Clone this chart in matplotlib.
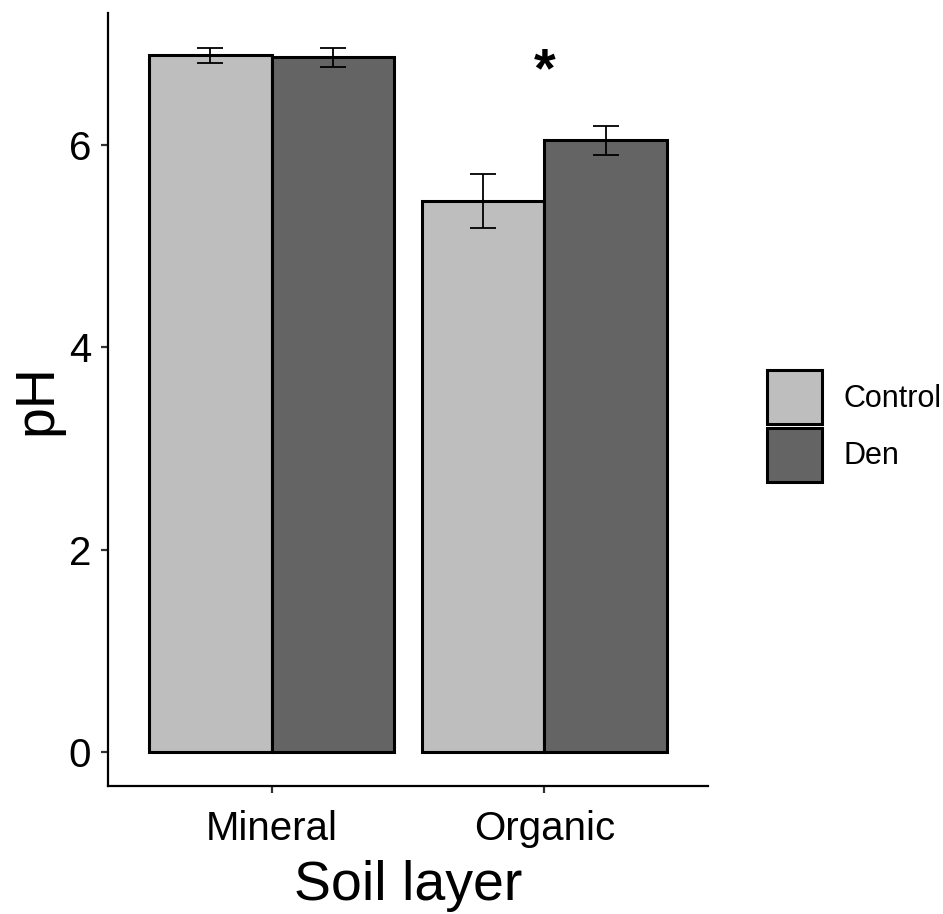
import numpy as np
import matplotlib.pyplot as plt
from matplotlib.patches import Patch

plt.rcParams['font.family'] = ['Liberation Sans', 'DejaVu Sans']

layers = ["Mineral", "Organic"]
treatments = ["Control", "Den"]
ph_mean = {"Control": [6.89, 5.45], "Den": [6.87, 6.05]}
ph_se = {"Control": [0.075, 0.265], "Den": [0.09, 0.145]}
colors = {"Control": "#bebebe", "Den": "#646464"}
sig_marks = ["", "*"]

fig = plt.figure(figsize=(9.43, 9.14), dpi=100)
ax = fig.add_axes([108 / 943, 1 - 786 / 914, 600 / 943, 773 / 914])

x = np.arange(len(layers))
width = 0.45
for i, t in enumerate(treatments):
    pos = x + (i - 0.5) * width
    ax.bar(pos, ph_mean[t], width=width, color=colors[t],
           edgecolor="black", linewidth=2.2, zorder=2)
    ax.errorbar(pos, ph_mean[t], yerr=ph_se[t], fmt="none", ecolor="black",
                elinewidth=1.3, capsize=9.7, capthick=1.3, zorder=3)

# significance markers above each soil layer
for xi, mark in zip(x, sig_marks):
    if mark:
        ax.text(xi, 6.72, mark, ha="center", va="center",
                fontsize=40, fontweight="bold")

ax.set_xlim(-0.6, 1.6)
ax.set_ylim(-0.34, 7.31)
ax.set_xticks(x)
ax.set_xticklabels(layers)
ax.set_yticks([0, 2, 4, 6])

for side in ["top", "right"]:
    ax.spines[side].set_visible(False)
for side in ["left", "bottom"]:
    ax.spines[side].set_linewidth(1.6)
ax.tick_params(axis="both", length=5, width=1.6, color="#333333",
               labelsize=29, labelcolor="black")
ax.tick_params(axis="y", pad=7)
ax.tick_params(axis="x", pad=12)

ax.set_xlabel("Soil layer", fontsize=40, labelpad=9)
ax.set_ylabel("pH", fontsize=40, labelpad=4)

handles = [Patch(facecolor=colors[t], edgecolor="black", linewidth=2.2)
           for t in treatments]
fig.legend(handles, treatments, loc="center left",
           bbox_to_anchor=(767 / 943, 1 - 426 / 914), frameon=False,
           fontsize=22, handlelength=1.8, handleheight=2.36,
           labelspacing=0.1, handletextpad=0.7, borderpad=0,
           borderaxespad=0)

fig.savefig("out.png", dpi=100)
